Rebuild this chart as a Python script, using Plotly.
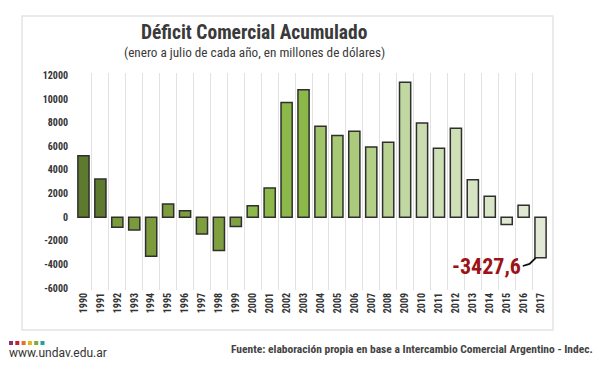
import plotly.graph_objects as go

years = [str(y) for y in range(1990, 2018)]
values = [5200, 3230, -850, -1070, -3300, 1120, 560, -1410, -2810, -790,
          980, 2470, 9700, 10790, 7700, 6910, 7280, 5950, 6350, 11410,
          7980, 5840, 7530, 3170, 1770, -620, 1010, -3427.6]
y_ticks = [-6000, -4000, -2000, 0, 2000, 4000, 6000, 8000, 10000, 12000]
colors = ["#5e7a2e", "#5e7a2e",
          "#7a9a3c", "#7a9a3c", "#7b9b3d", "#7c9c3e", "#7d9d3f", "#7e9e40", "#7f9f41", "#80a042",
          "#8db84b", "#8db84b", "#8cb84a", "#8cb84a",
          "#a0c468", "#a7c874", "#abca7c", "#b3cf88", "#b9d292",
          "#c2d8a2", "#cadcb0", "#cddfb4", "#cfe0b7",
          "#d6e4c3", "#d8e5c6", "#e0e8d2", "#e0e8d2", "#e1e9d4"]

FONT = "Liberation Sans Narrow, Roboto Condensed, DejaVu Sans Condensed, Roboto, sans-serif"

fig = go.Figure()
fig.add_trace(go.Bar(
    x=years, y=values, width=0.66,
    marker=dict(color=colors, line=dict(color="#2f2f2f", width=1.5)),
    hoverinfo="x+y", showlegend=False,
))

shapes = [
    dict(type="rect", xref="paper", yref="paper", x0=-0.1118, x1=1.0084, y0=-0.1843, y1=1.2627,
         line=dict(color="#e4e4e4", width=1.5), fillcolor="white", layer="below"),
    dict(type="path", xref="x", yref="y",
         path="M 25.95,-4120 L 26.35,-3950 L 26.72,-3427.6",
         line=dict(color="#111111", width=1.8)),
]

annotations = [
    dict(text="<b>Déficit Comercial Acumulado</b>", xref="paper", yref="paper",
         x=(254 - 75) / 474, y=(290 - 32) / 217, xanchor="center", yanchor="middle",
         showarrow=False, font=dict(family=FONT, size=19.5, color="#3a3a3a")),
    dict(text="(enero a julio de cada año, en millones de dólares)", xref="paper", yref="paper",
         x=(254 - 75) / 474, y=(290 - 52) / 217, xanchor="center", yanchor="middle",
         showarrow=False, font=dict(family=FONT, size=13.2, color="#3a3a3a")),
    dict(text="<b>-3427,6</b>", xref="x", yref="y", x=23.8, y=-4200,
         xanchor="center", yanchor="middle", showarrow=False,
         font=dict(family=FONT, size=22, color="#9b1218")),
    dict(text="<b>Fuente: elaboración propia en base a Intercambio Comercial Argentino - Indec.</b>",
         xref="paper", yref="paper", x=(595 - 75) / 474, y=(290 - 349) / 217,
         xanchor="right", yanchor="middle", showarrow=False,
         font=dict(family=FONT, size=11.5, color="#444444")),
    dict(text="www.undav.edu.ar", xref="paper", yref="paper", x=(7 - 75) / 474, y=(290 - 353) / 217,
         xanchor="left", yanchor="middle", showarrow=False,
         font=dict(family="Roboto, sans-serif", size=12, color="#333333")),
]

dot_colors = ["#8e2f6e", "#c0232f", "#e0702a", "#e3b51d", "#7fab3a", "#2a9c9a"]
for i, c in enumerate(dot_colors):
    px0 = 9 + i * 6.3
    shapes.append(dict(type="rect", xref="paper", yref="paper",
                       x0=(px0 - 75) / 474, x1=(px0 + 4 - 75) / 474,
                       y0=(290 - 345) / 217, y1=(290 - 341) / 217,
                       fillcolor=c, line=dict(width=0)))

fig.update_layout(
    width=600, height=365,
    margin=dict(l=75, r=51, t=73, b=75),
    paper_bgcolor="white", plot_bgcolor="white",
    shapes=shapes, annotations=annotations,
    xaxis=dict(type="category", tickson="boundaries", showgrid=True, gridcolor="#e2e2e2",
               gridwidth=1.2, tickangle=-90, ticks="", showline=False, zeroline=False,
               tickfont=dict(family=FONT, size=10, color="#333333", weight="bold")),
    yaxis=dict(range=[-6150, 12200], tickvals=y_ticks, ticktext=[str(v) for v in y_ticks],
               showgrid=False, zeroline=False, showline=False, ticks="", ticklabelstandoff=6,
               tickfont=dict(family=FONT, size=10, color="#333333", weight="bold")),
)

fig.write_html("out.html", config={"displayModeBar": False},
               post_script="document.body.style.margin='0';")
